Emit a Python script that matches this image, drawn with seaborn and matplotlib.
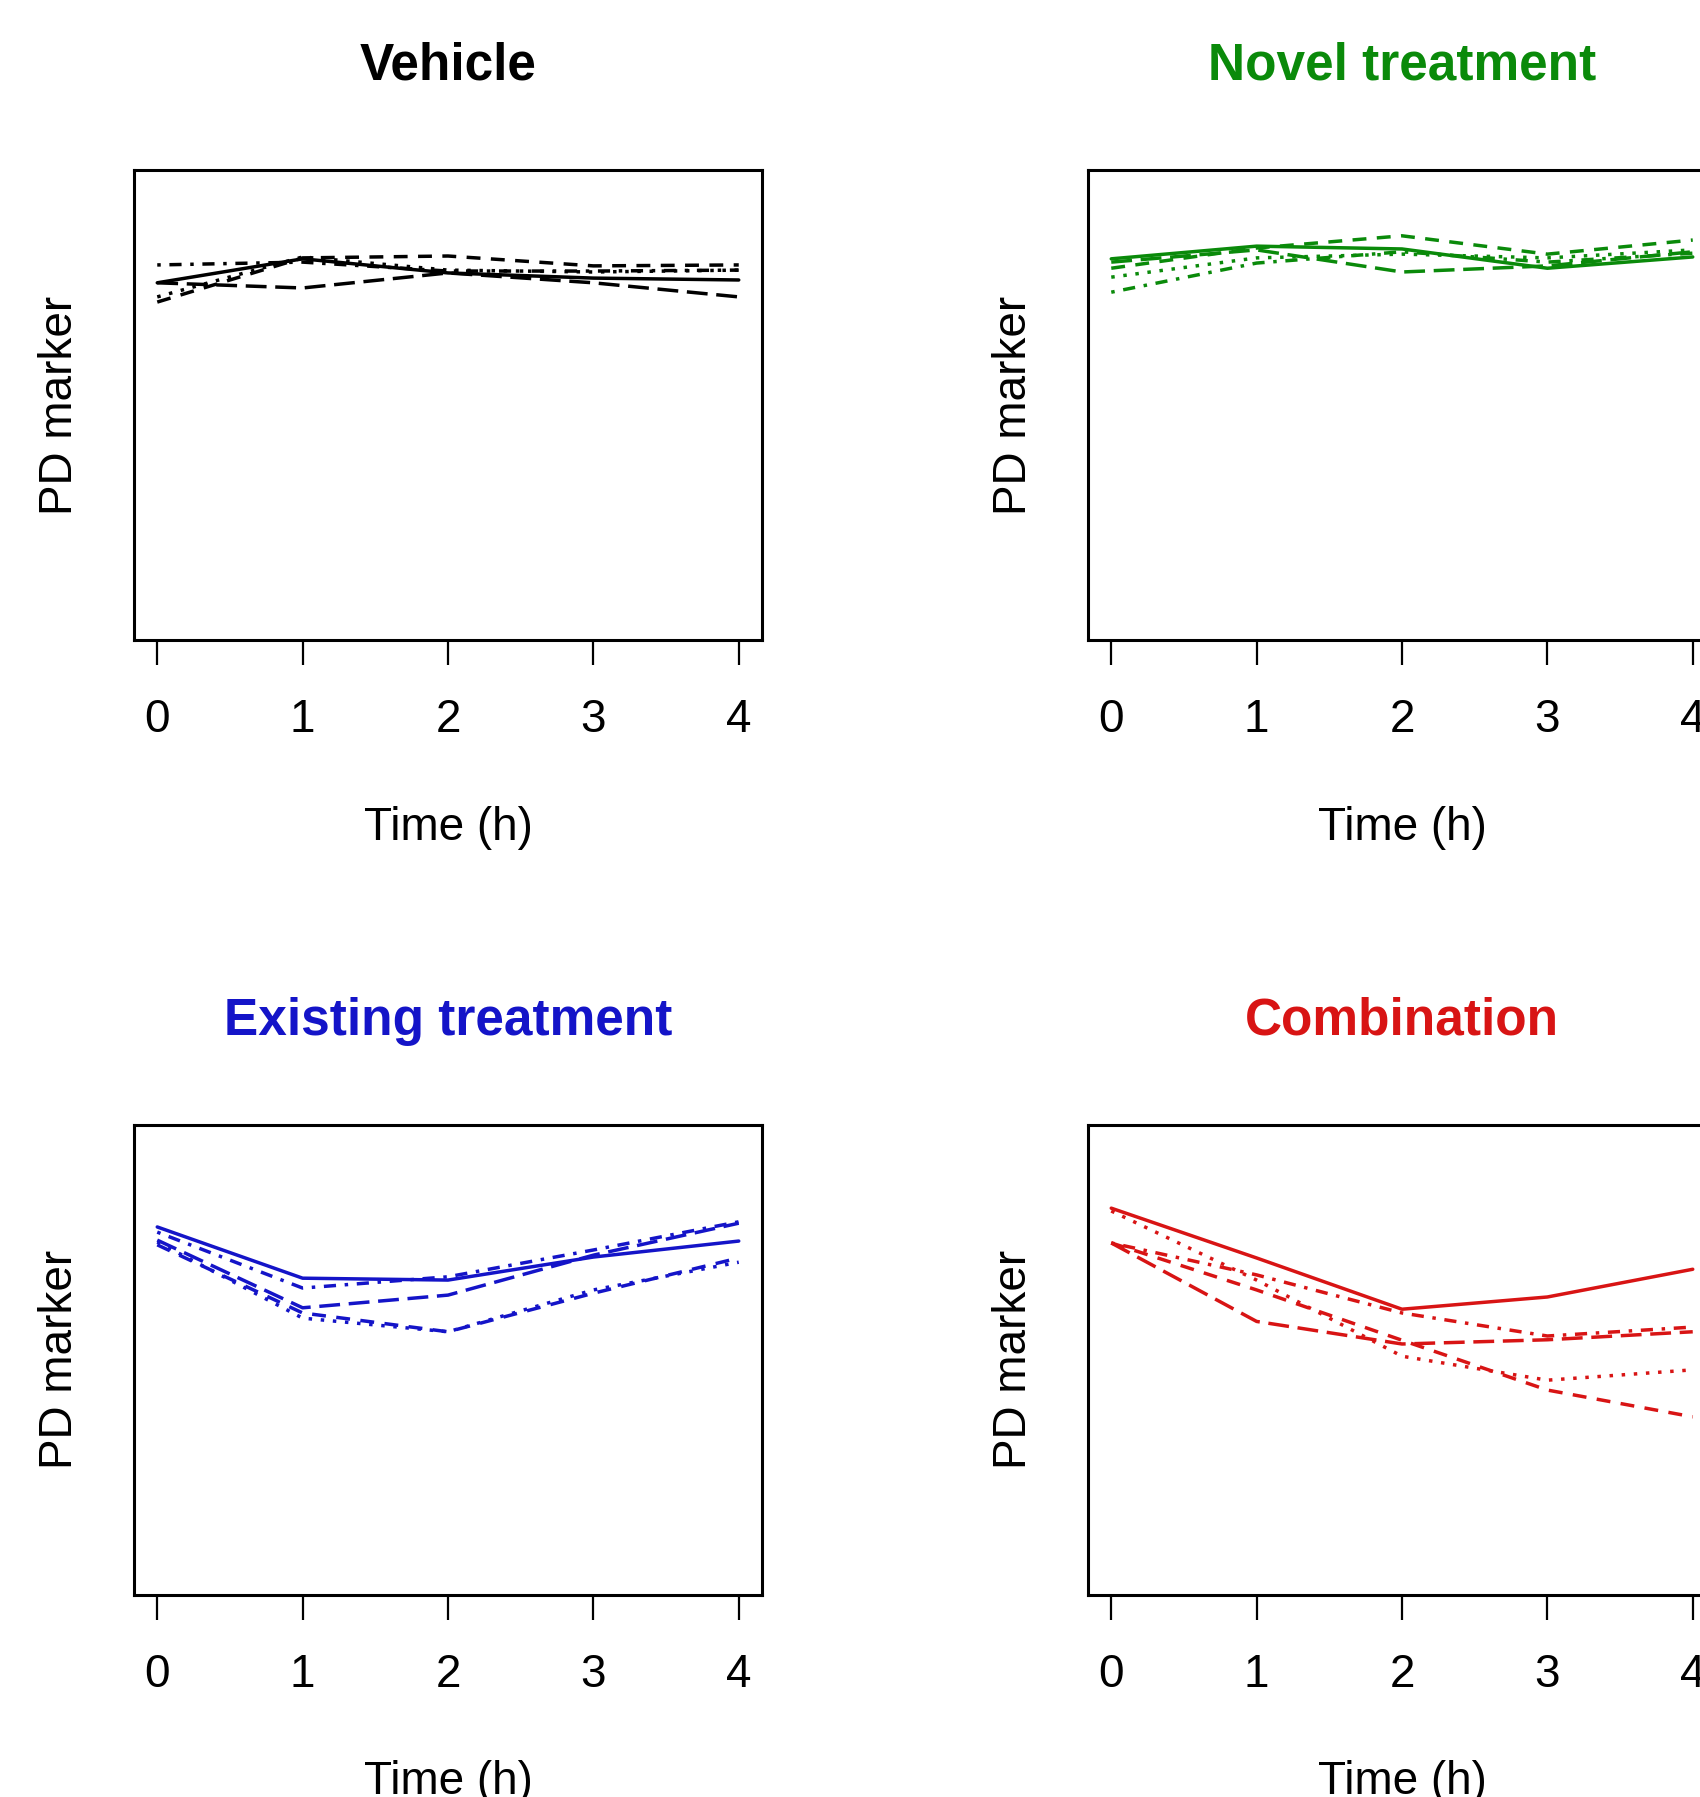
import matplotlib
matplotlib.use("Agg")
import matplotlib.pyplot as plt
import numpy as np
import pandas as pd
import seaborn as sns

# ---------------- data (PD marker, arbitrary units, y-range 0-100) ----------------
times = [0, 1, 2, 3, 4]
subjects = ["Subject 1", "Subject 2", "Subject 3", "Subject 4", "Subject 5"]

vehicle_s1 = [76.0, 81.1, 78.1, 77.0, 76.6]
vehicle_s2 = [71.9, 81.3, 81.7, 79.6, 79.8]
vehicle_s3 = [73.0, 81.5, 78.7, 78.3, 78.7]
vehicle_s4 = [79.8, 80.4, 78.5, 78.5, 78.7]
vehicle_s5 = [76.0, 74.9, 78.1, 76.0, 73.0]

novel_s1 = [81.1, 83.8, 83.2, 79.1, 81.5]
novel_s2 = [79.1, 83.4, 86.0, 82.1, 85.1]
novel_s3 = [77.2, 81.3, 82.1, 81.3, 83.0]
novel_s4 = [74.0, 80.2, 82.6, 80.4, 82.3]
novel_s5 = [80.4, 83.0, 78.3, 79.6, 82.6]

existing_s1 = [78.2, 67.3, 66.9, 71.8, 75.2]
existing_s2 = [74.4, 59.9, 55.9, 64.1, 71.6]
existing_s3 = [75.0, 58.8, 55.9, 64.8, 70.7]
existing_s4 = [77.1, 65.2, 67.6, 73.3, 79.3]
existing_s5 = [75.4, 61.0, 63.7, 72.2, 79.0]

combo_s1 = [82.2, 71.6, 60.7, 63.3, 69.2]
combo_s2 = [74.8, 64.8, 54.1, 43.5, 37.8]
combo_s3 = [81.6, 66.9, 50.7, 45.6, 47.8]
combo_s4 = [74.8, 68.0, 59.9, 55.0, 56.9]
combo_s5 = [74.8, 58.1, 53.3, 54.2, 55.9]

panel_titles = ["Vehicle", "Novel treatment", "Existing treatment", "Combination"]
panel_colors = ["#000000", "#0a8a0a", "#1414c8", "#d81414"]
x_label = "Time (h)"
y_label = "PD marker"

# ---------------- styling ----------------
sns.set_style("white")
plt.rcParams["font.family"] = ["Liberation Sans", "DejaVu Sans"]

W, H = 1700, 1797
fig = plt.figure(figsize=(W / 100, H / 100), dpi=100)


def box(x0, y0, x1, y1):
    return [x0 / W, 1 - y1 / H, (x1 - x0) / W, (y1 - y0) / H]


# line type of each subject (R lty 1..5)
dash_map = {
    "Subject 1": "",
    "Subject 2": (4.0, 3.0),
    "Subject 3": (1.0, 2.5),
    "Subject 4": (1.0, 2.5, 3.5, 2.5),
    "Subject 5": (6.0, 2.5),
}

panels = [
    ([vehicle_s1, vehicle_s2, vehicle_s3, vehicle_s4, vehicle_s5], (134, 170, 762, 640)),
    ([novel_s1, novel_s2, novel_s3, novel_s4, novel_s5], (1088, 170, 1716, 640)),
    ([existing_s1, existing_s2, existing_s3, existing_s4, existing_s5], (134, 1124.5, 762, 1594.5)),
    ([combo_s1, combo_s2, combo_s3, combo_s4, combo_s5], (1088, 1124.5, 1716, 1594.5)),
]

for (series, (x0, y0, x1, y1)), title, color in zip(panels, panel_titles, panel_colors):
    ax = fig.add_axes(box(x0, y0, x1, y1))
    df = pd.DataFrame({
        "time": np.tile(times, len(subjects)),
        "value": np.concatenate(series),
        "subject": np.repeat(subjects, len(times)),
    })
    sns.lineplot(data=df, x="time", y="value", style="subject", dashes=dash_map,
                 color=color, linewidth=2.5, errorbar=None, legend=False, ax=ax)
    ax.set_xlim(-0.16, 4.16)
    ax.set_ylim(0, 100)
    ax.set_xticks(times)
    ax.set_xticklabels([str(t) for t in times])
    ax.set_yticks([])
    ax.set_xlabel("")
    ax.set_ylabel("")
    ax.tick_params(axis="x", which="both", direction="out", length=18, width=1.6,
                   color="black", labelcolor="black", labelsize=33, pad=24,
                   bottom=True)
    for sp in ax.spines.values():
        sp.set_visible(True)
        sp.set_color("black")
        sp.set_linewidth(2.2)
    ax.grid(False)

    cx = (x0 + x1) / 2
    # title
    fig.text(cx / W, 1 - (y0 - 90) / H, title, ha="center", va="baseline",
             fontsize=37, fontweight="bold", color=color)
    # x label
    fig.text(cx / W, 1 - (y1 + 200) / H, x_label, ha="center", va="baseline",
             fontsize=33, color="black")
    # y label (baseline on the right side when rotated)
    fig.text((x0 - 62) / W, 1 - ((y0 + y1) / 2) / H, y_label, ha="center",
             va="baseline", rotation=90, rotation_mode="anchor", fontsize=33,
             color="black")

fig.savefig("out.png", dpi=100)
